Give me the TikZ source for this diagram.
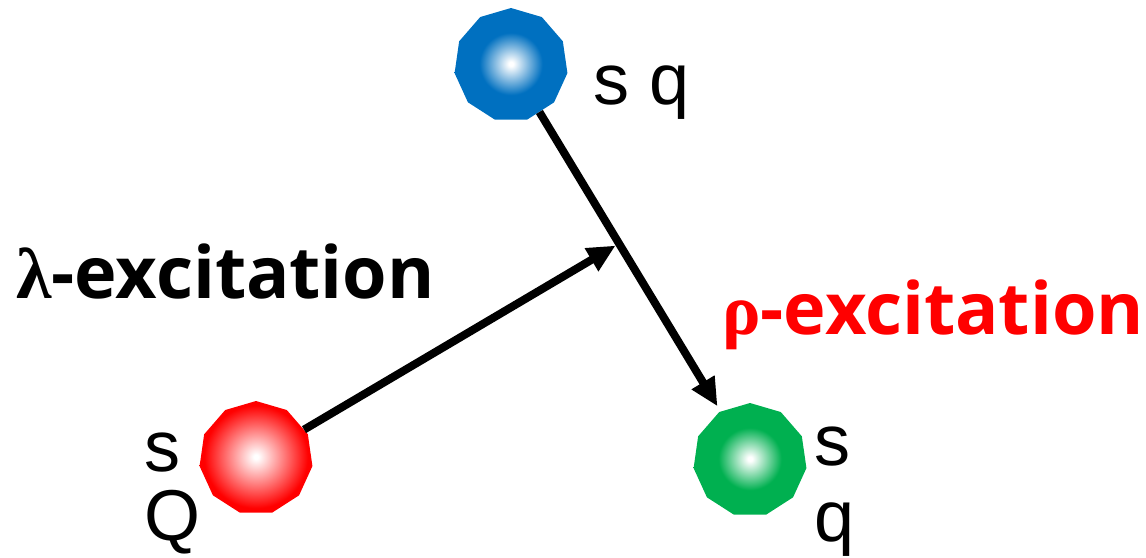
\documentclass[tikz,border=0pt]{standalone}
\usepackage{fontspec}
\setmainfont{Liberation Sans}
\newfontfamily\labfont{Open Sans}
\newfontfamily\grkfont{Liberation Serif}
\usetikzlibrary{shapes.geometric,arrows.meta,calc}
\definecolor{qblue}{RGB}{0,112,192}
\definecolor{qgreen}{RGB}{0,176,80}
\definecolor{qred}{RGB}{255,0,0}
\pgfdeclareradialshading{redball}{\pgfpoint{0bp}{0bp}}{color(0bp)=(white);color(1bp)=(white);color(23bp)=(qred);color(50bp)=(qred)}
\pgfdeclareradialshading{blueball}{\pgfpoint{0bp}{0bp}}{color(0bp)=(white);color(1bp)=(white);color(14bp)=(qblue);color(50bp)=(qblue)}
\pgfdeclareradialshading{greenball}{\pgfpoint{0bp}{0bp}}{color(0bp)=(white);color(1bp)=(white);color(14bp)=(qgreen);color(50bp)=(qgreen)}
\tikzset{
  ball/.style={regular polygon, regular polygon sides=11, minimum size=114pt, inner sep=0pt, draw=none},
  arr/.style={line width=8pt, -{Triangle[length=28pt,width=25pt]}},
  quark/.style={font=\fontsize{72}{72}\selectfont, inner sep=0pt, anchor=base west},
  exc/.style={font=\labfont\bfseries\fontsize{72}{72}\selectfont, inner sep=0pt, anchor=base west},
}
\begin{document}
\begin{tikzpicture}[x=1pt,y=-1pt]
\useasboundingbox (0,0) rectangle (1146,557);
\node[ball, shading=blueball] (blue) at (511,65) {};
\node[ball, shading=redball] (red) at (256,458) {};
\node[ball, shading=greenball] (green) at (750,460) {};
\coordinate (mid) at ($(blue)!0.452!(green)$);
\draw[arr, shorten >=4pt] (red) -- (mid);
\draw[arr, shorten >=6pt] (blue) -- (green);
\node[quark] (sq) at (593,104) {s q};
\node[quark] (rs) at (144,471) {s};
\node[quark] (rq) at (144,540) {Q};
\node[quark] (gs) at (814,465) {s};
\node[quark] (gq) at (814,541) {q};
\node[exc] (lam) at (16,298) {{\grkfont λ}-excitation};
\node[exc, text=qred] (rho) at (722,334) {{\grkfont ρ}-excitation};
\end{tikzpicture}
\end{document}
